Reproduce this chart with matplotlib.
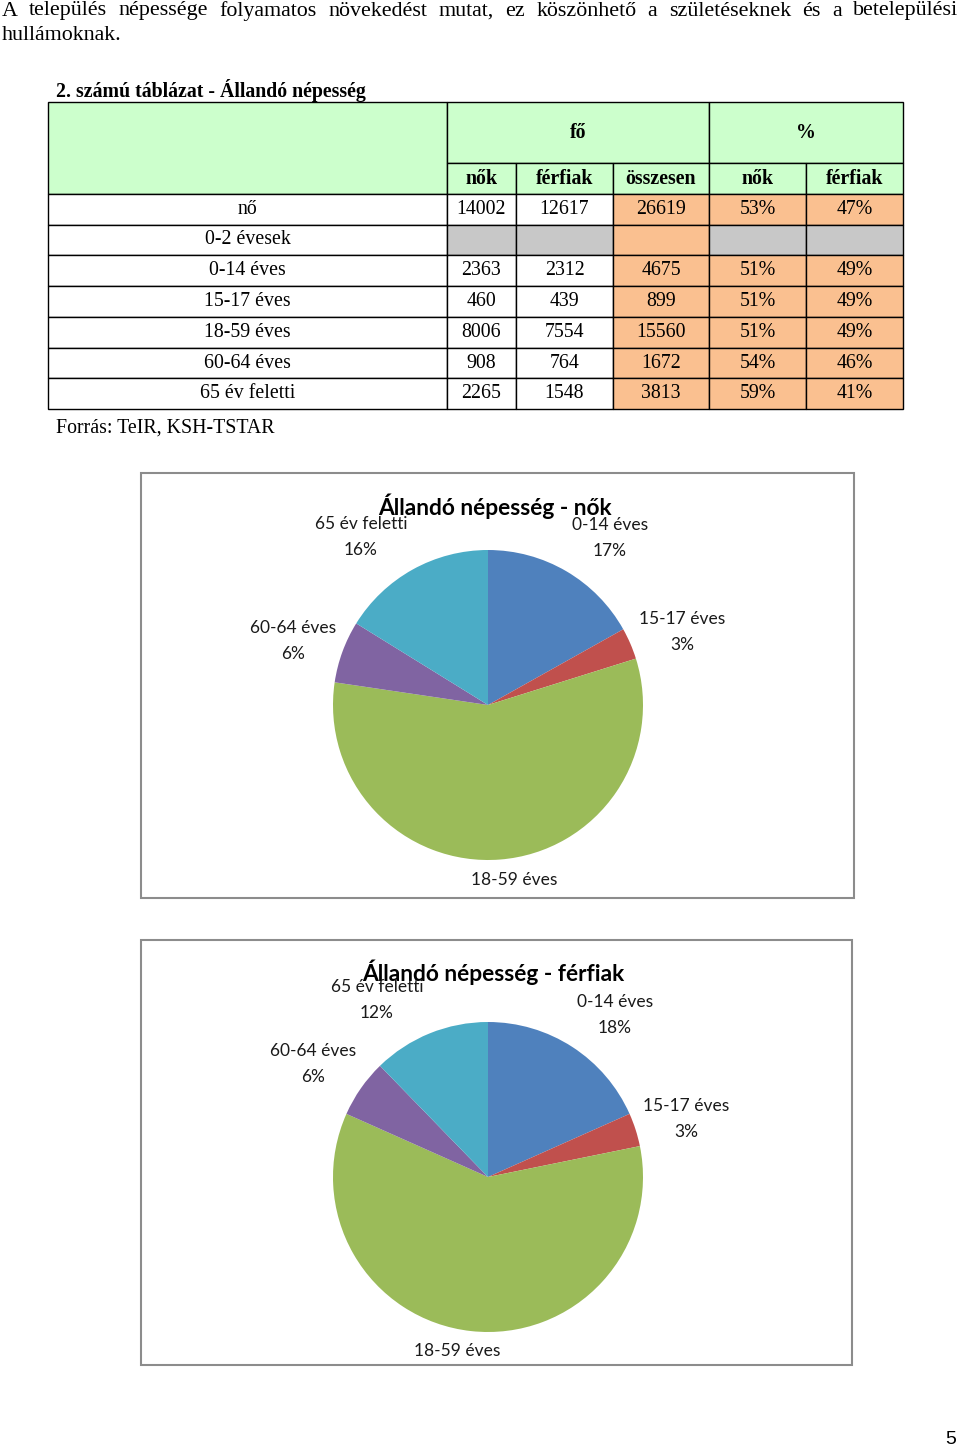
import numpy as np
import matplotlib
matplotlib.use("Agg")
import matplotlib.pyplot as plt
from matplotlib.patches import Rectangle

# --- data read from the page ---
rows = ["nő", "0-2 évesek", "0-14 éves", "15-17 éves", "18-59 éves", "60-64 éves", "65 év feletti"]
nok = [14002, None, 2363, 460, 8006, 908, 2265]
ferfiak = [12617, None, 2312, 439, 7554, 764, 1548]

ages = ["0-14 éves", "15-17 éves", "18-59 éves", "60-64 éves", "65 év feletti"]
pie_nok = [2363, 460, 8006, 908, 2265]
pie_ferfiak = [2312, 439, 7554, 764, 1548]
pie_colors = ["#4F81BD", "#C0504D", "#9BBB59", "#8064A2", "#4BACC6"]

para = ["A település népessége folyamatos növekedést mutat, ez köszönhető a születéseknek és a betelepülési",
        "hullámoknak."]

W, H = 960, 1448
SERIF = "Liberation Serif"
SANS = "Lato"
TFS = 14.3  # table font size

fig = plt.figure(figsize=(W / 100, H / 100), dpi=100)
bg = fig.add_axes([0, 0, 1, 1])
bg.set_xlim(0, W)
bg.set_ylim(H, 0)
bg.axis("off")

# paragraph, first line justified
renderer = fig.canvas.get_renderer()
words = para[0].split()
objs = [bg.text(0, 11, w, fontsize=15.8, family=SERIF, va="center", ha="left") for w in words]
widths = [o.get_window_extent(renderer).width for o in objs]
x0, x1 = 2, 958
gap = (x1 - x0 - sum(widths)) / (len(words) - 1)
x = x0
for o, w in zip(objs, widths):
    o.set_x(x)
    x += w + gap
bg.text(2, 35, para[1], fontsize=15.8, family=SERIF, va="center", ha="left")

# table
bg.text(56, 91, "2. számú táblázat - Állandó népesség", fontsize=TFS, family=SERIF,
        weight="bold", va="center", ha="left")

cols = [48, 447, 516, 613, 709, 806, 903]
top, mid, sub = 102, 163, 194
row_edges = [194, 225, 255, 286, 317, 348, 378, 409]
green = "#CCFFCC"
orange = "#FAC090"
grey = "#C8C8C8"

def cell(xa, ya, xb, yb, fc):
    bg.add_patch(Rectangle((xa, ya), xb - xa, yb - ya, facecolor=fc, edgecolor="black", lw=1))

cell(cols[0], top, cols[1], sub, green)
cell(cols[1], top, cols[4], mid, green)
cell(cols[4], top, cols[6], mid, green)
bg.text((cols[1] + cols[4]) / 2, (top + mid) / 2, "fő", fontsize=TFS, family=SERIF,
        weight="bold", ha="center", va="center")
bg.text((cols[4] + cols[6]) / 2, (top + mid) / 2, "%", fontsize=TFS, family=SERIF,
        weight="bold", ha="center", va="center")
subheads = ["nők", "férfiak", "összesen", "nők", "férfiak"]
for i, s in enumerate(subheads):
    cell(cols[i + 1], mid, cols[i + 2], sub, green)
    bg.text((cols[i + 1] + cols[i + 2]) / 2, (mid + sub) / 2, s, fontsize=TFS,
            family=SERIF, weight="bold", ha="center", va="center")

for r, name in enumerate(rows):
    ya = row_edges[r]
    yb = row_edges[r + 1]
    yc = (ya + yb) / 2
    cell(cols[0], ya, cols[1], yb, "white")
    bg.text((cols[0] + cols[1]) / 2, yc, name, fontsize=TFS, family=SERIF, ha="center", va="center")
    if nok[r] is None:
        fills = [grey, grey, orange, grey, grey]
        vals = [""] * 5
    else:
        tot = nok[r] + ferfiak[r]
        pn = round(nok[r] / tot * 100)
        vals = [str(nok[r]), str(ferfiak[r]), str(tot), f"{pn}%", f"{100 - pn}%"]
        fills = ["white", "white", orange, orange, orange]
    for i in range(5):
        cell(cols[i + 1], ya, cols[i + 2], yb, fills[i])
        bg.text((cols[i + 1] + cols[i + 2]) / 2, yc, vals[i], fontsize=TFS, family=SERIF,
                ha="center", va="center")

bg.text(56, 428, "Forrás: TeIR, KSH-TSTAR", fontsize=TFS, family=SERIF, ha="left", va="center")

# pie charts
def pie_chart(box, center, radius, values, title, title_pos, label_pos):
    bx0, by0, bx1, by1 = box
    bg.add_patch(Rectangle((bx0, by0), bx1 - bx0, by1 - by0, facecolor="white",
                           edgecolor="#8C8C8C", lw=1.5))
    cx, cy = center
    ax = fig.add_axes([(cx - radius) / W, 1 - (cy + radius) / H, 2 * radius / W, 2 * radius / H])
    ax.pie(values, colors=pie_colors, startangle=90, counterclock=False, radius=1)
    ax.set_xlim(-1, 1)
    ax.set_ylim(-1, 1)
    ax.set_aspect("equal")
    ax.axis("off")
    bg.text(title_pos[0], title_pos[1], title, fontsize=16.4, family=SANS, weight="bold",
            ha="center", va="center")
    total = sum(values)
    for name, v, (lx, ly) in zip(ages, values, label_pos):
        txt = name if name == "18-59 éves" else f"{name}\n{round(v / total * 100)}%"
        bg.text(lx, ly, txt, fontsize=12.5, family=SANS, ha="center", va="center",
                linespacing=1.7, color="#1a1a1a")

pos_nok = [(610, 538), (682, 632), (514, 880), (293, 641), (361, 537)]
pos_ferfiak = [(615, 1015), (686, 1119), (457, 1351), (313, 1064), (377, 1000)]

pie_chart((141, 473, 854, 898), (488, 705), 155, pie_nok,
          "Állandó népesség - nők", (495, 506), pos_nok)
pie_chart((141, 940, 852, 1365), (488, 1177), 155, pie_ferfiak,
          "Állandó népesség - férfiak", (493, 972), pos_ferfiak)

bg.text(951, 1440, "5", fontsize=14, family="Liberation Sans", ha="center", va="center")

fig.savefig("out.png", dpi=100)
